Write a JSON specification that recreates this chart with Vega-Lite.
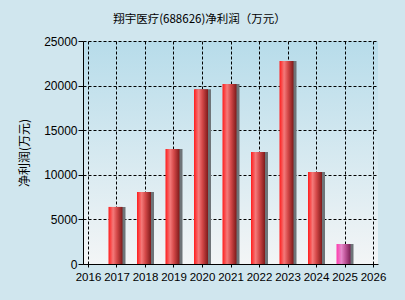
{
  "$schema": "https://vega.github.io/schema/vega-lite/v6.json",
  "width": 295,
  "height": 223,
  "autosize": {"type": "none"},
  "padding": {"left": 83, "top": 41, "right": 27, "bottom": 36},
  "background": "#d0e6ee",
  "config": {
    "view": {
      "fill": {"gradient": "linear", "x1": 0, "y1": 0, "x2": 0, "y2": 1,
        "stops": [{"offset": 0, "color": "#b7dcea"}, {"offset": 1, "color": "#f3f5f6"}]},
      "stroke": null
    },
    "font": "Liberation Sans",
    "axis": {
      "labelFont": "Liberation Sans",
      "labelFontSize": 12,
      "labelColor": "#000000",
      "tickColor": "#000000",
      "domainColor": "#000000",
      "gridColor": "#000000",
      "gridDash": [3, 2],
      "gridOpacity": 1,
      "gridWidth": 1
    }
  },
  "title": {
    "text": "翔宇医疗(688626)净利润（万元）",
    "font": "Noto Sans CJK SC",
    "fontSize": 11.5,
    "fontWeight": "normal",
    "color": "#000000",
    "offset": 10,
    "dx": -31,
    "anchor": "middle"
  },
  "data": {
    "values": [
      {"year": 2017, "value": 6400},
      {"year": 2018, "value": 8070},
      {"year": 2019, "value": 12900},
      {"year": 2020, "value": 19600},
      {"year": 2021, "value": 20180},
      {"year": 2022, "value": 12560},
      {"year": 2023, "value": 22750},
      {"year": 2024, "value": 10300},
      {"year": 2025, "value": 2240}
    ]
  },
  "encoding": {
    "x": {"field": "year", "type": "quantitative",
      "scale": {"domain": [2016, 2026], "nice": false},
      "axis": {"values": [2016, 2017, 2018, 2019, 2020, 2021, 2022, 2023, 2024, 2025, 2026],
        "format": "d", "title": null, "tickSize": 3, "labelPadding": 4, "labelFontSize": 11.5,
        "labelFlush": false, "labelOverlap": false}},
    "y": {"field": "value", "type": "quantitative",
      "scale": {"domain": [0, 25000], "nice": false},
      "axis": {"values": [0, 5000, 10000, 15000, 20000, 25000], "format": "d",
        "title": "净利润(万元)", "titleFont": "Noto Sans CJK SC", "titleFontSize": 12,
        "titleFontWeight": "normal", "titleColor": "#000000", "titlePadding": 12,
        "tickSize": 5, "labelPadding": 1}}
  },
  "layer": [
    {
      "mark": {"type": "bar", "width": 16, "xOffset": 1, "color": "#6e7478"}
    },
    {
      "mark": {"type": "bar", "width": 14, "xOffset": -1},
      "encoding": {
        "color": {
          "condition": {"test": "datum.year == 2025",
            "value": {"gradient": "linear", "x1": 0, "y1": 0, "x2": 1, "y2": 0,
              "stops": [{"offset": 0, "color": "#ff3aae"}, {"offset": 0.35, "color": "#e68acb"},
                        {"offset": 0.6, "color": "#c45a9e"}, {"offset": 1, "color": "#7a1f55"}]}},
          "value": {"gradient": "linear", "x1": 0, "y1": 0, "x2": 1, "y2": 0,
            "stops": [{"offset": 0, "color": "#ff1c1c"}, {"offset": 0.33, "color": "#f47a7a"},
                      {"offset": 0.6, "color": "#d44848"}, {"offset": 1, "color": "#7e1a1a"}]}
        }
      }
    },
    {
      "data": {"values": [{"t": "CFi.CN"}]},
      "mark": {"type": "text", "font": "Liberation Sans", "fontSize": 15, "fontWeight": "bold",
        "color": "#8d979c", "align": "center", "baseline": "middle"},
      "encoding": {
        "x": {"datum": 2026.07, "type": "quantitative"},
        "y": {"datum": 28475, "type": "quantitative"},
        "text": {"field": "t"}
      }
    }
  ]
}
